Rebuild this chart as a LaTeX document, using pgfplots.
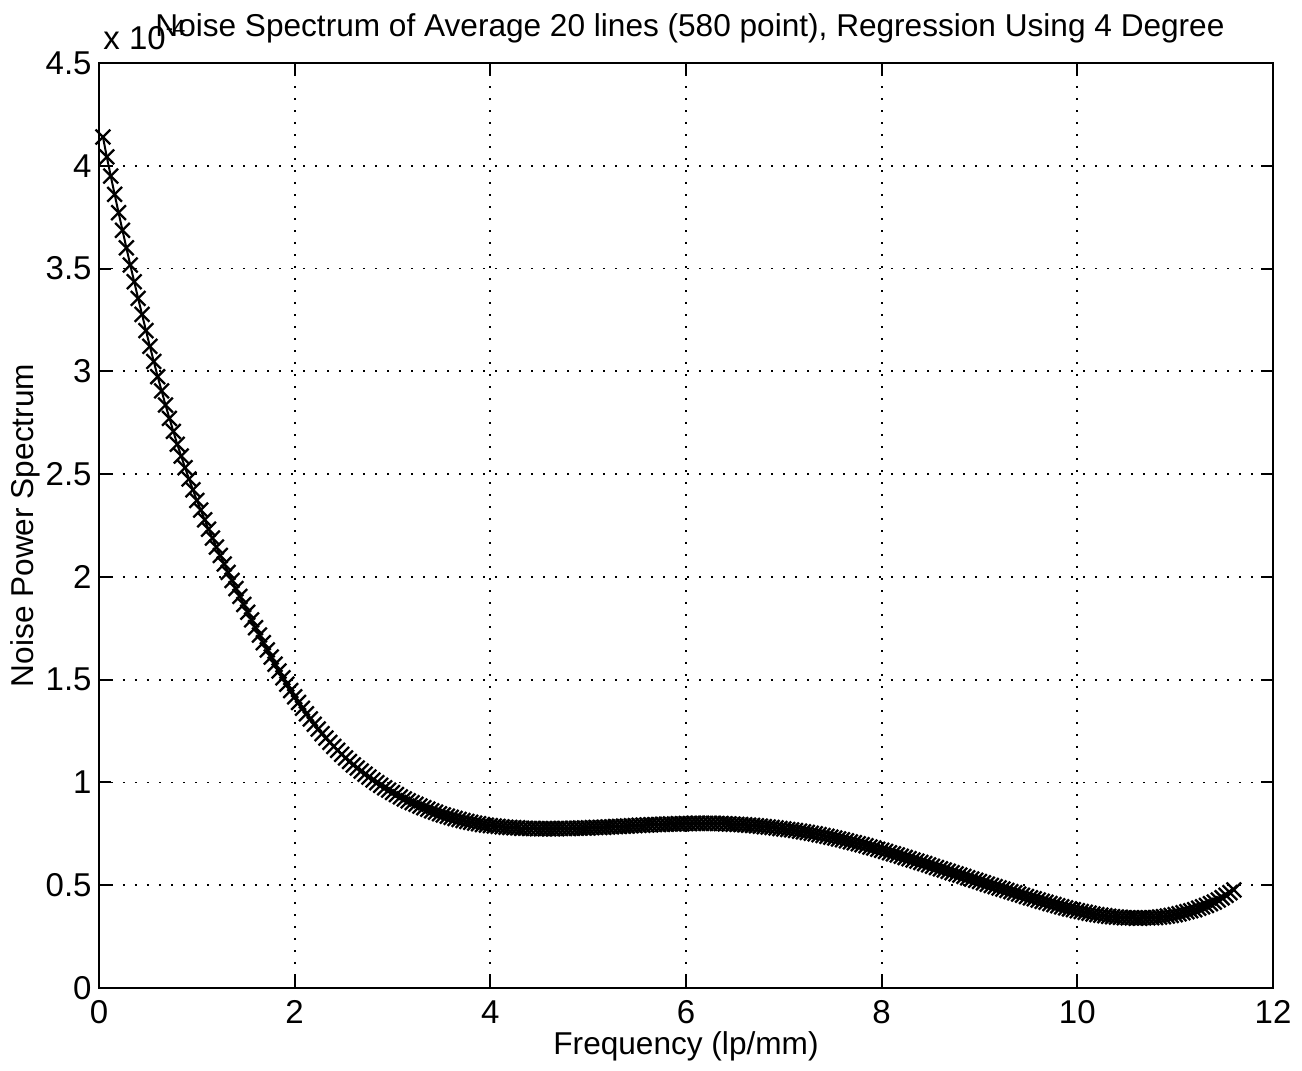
\documentclass[border=0pt]{standalone}
\usepackage{fontspec}
\setmainfont{Liberation Sans}
\usepackage{pgfplots}
\pgfplotsset{compat=1.18}
\newcommand\fs{\fontsize{15.8}{18}\selectfont}
\newcommand\tfs{\fontsize{16.5}{19}\selectfont}
\begin{document}
\begin{tikzpicture}
\begin{axis}[name=ax, scale only axis, width=587pt, height=462.5pt,
  xmin=0, xmax=12, ymin=0, ymax=4.5,
  xtick={0,2,4,6,8,10,12},
  ytick={0,0.5,1,1.5,2,2.5,3,3.5,4,4.5},
  yticklabels={0,0.5,1,1.5,2,2.5,3,3.5,4,4.5},
  grid=major,
  major grid style={black, line width=0.9pt, dash pattern=on 0.9pt off 5.1pt},
  axis line style={black, line width=1pt},
  tick style={black, line width=1pt}, major tick length=6pt,
  tick align=inside, xtick pos=both, ytick pos=both,
  /pgf/number format/assume math mode=true,
  ticklabel style={font=\tfs},
  yticklabel style={anchor=east, inner sep=0pt, xshift=-3.5pt},
  xticklabel style={anchor=north, inner sep=0pt, yshift=-6pt},
  clip=false]
\addplot[black, line width=1pt, mark=x, mark size=5.2pt, mark options={line width=1.15pt, solid}] coordinates {
(0.04,4.140) (0.08,4.043) (0.12,3.950) (0.16,3.861) (0.20,3.772)
(0.24,3.686) (0.28,3.601) (0.32,3.517) (0.36,3.436) (0.40,3.355)
(0.44,3.277) (0.48,3.198) (0.52,3.122) (0.56,3.048) (0.60,2.974)
(0.64,2.905) (0.68,2.836) (0.72,2.771) (0.76,2.708) (0.80,2.645)
(0.84,2.588) (0.88,2.531) (0.92,2.476) (0.96,2.424) (1.00,2.372)
(1.04,2.325) (1.08,2.278) (1.12,2.232) (1.16,2.189) (1.20,2.145)
(1.24,2.104) (1.28,2.063) (1.32,2.022) (1.36,1.983) (1.40,1.943)
(1.44,1.905) (1.48,1.866) (1.52,1.828) (1.56,1.791) (1.60,1.753)
(1.64,1.717) (1.68,1.680) (1.72,1.645) (1.76,1.610) (1.80,1.575)
(1.84,1.542) (1.88,1.509) (1.92,1.478) (1.96,1.447) (2.00,1.417)
(2.04,1.389) (2.08,1.361) (2.12,1.334) (2.16,1.309) (2.20,1.283)
(2.24,1.260) (2.28,1.237) (2.32,1.216) (2.36,1.195) (2.40,1.175)
(2.44,1.156) (2.48,1.137) (2.52,1.119) (2.56,1.102) (2.60,1.085)
(2.64,1.070) (2.68,1.055) (2.72,1.040) (2.76,1.026) (2.80,1.012)
(2.84,0.999) (2.88,0.986) (2.92,0.974) (2.96,0.963) (3.00,0.951)
(3.04,0.941) (3.08,0.930) (3.12,0.920) (3.16,0.911) (3.20,0.902)
(3.24,0.894) (3.28,0.885) (3.32,0.877) (3.36,0.870) (3.40,0.862)
(3.44,0.855) (3.48,0.848) (3.52,0.842) (3.56,0.836) (3.60,0.830)
(3.64,0.825) (3.68,0.820) (3.72,0.815) (3.76,0.810) (3.80,0.806)
(3.84,0.802) (3.88,0.799) (3.92,0.795) (3.96,0.792) (4.00,0.790)
(4.04,0.788) (4.08,0.786) (4.12,0.784) (4.16,0.782) (4.20,0.781)
(4.24,0.780) (4.28,0.779) (4.32,0.777) (4.36,0.777) (4.40,0.776)
(4.44,0.776) (4.48,0.775) (4.52,0.775) (4.56,0.775) (4.60,0.775)
(4.64,0.775) (4.68,0.775) (4.72,0.776) (4.76,0.776) (4.80,0.776)
(4.84,0.777) (4.88,0.777) (4.92,0.778) (4.96,0.778) (5.00,0.779)
(5.04,0.780) (5.08,0.781) (5.12,0.781) (5.16,0.782) (5.20,0.783)
(5.24,0.784) (5.28,0.785) (5.32,0.786) (5.36,0.787) (5.40,0.788)
(5.44,0.789) (5.48,0.790) (5.52,0.791) (5.56,0.792) (5.60,0.793)
(5.64,0.794) (5.68,0.795) (5.72,0.795) (5.76,0.796) (5.80,0.797)
(5.84,0.798) (5.88,0.798) (5.92,0.799) (5.96,0.799) (6.00,0.800)
(6.04,0.800) (6.08,0.801) (6.12,0.801) (6.16,0.801) (6.20,0.801)
(6.24,0.801) (6.28,0.801) (6.32,0.800) (6.36,0.800) (6.40,0.799)
(6.44,0.798) (6.48,0.797) (6.52,0.796) (6.56,0.795) (6.60,0.794)
(6.64,0.792) (6.68,0.791) (6.72,0.789) (6.76,0.787) (6.80,0.785)
(6.84,0.783) (6.88,0.781) (6.92,0.779) (6.96,0.776) (7.00,0.774)
(7.04,0.771) (7.08,0.769) (7.12,0.766) (7.16,0.763) (7.20,0.760)
(7.24,0.757) (7.28,0.753) (7.32,0.750) (7.36,0.746) (7.40,0.742)
(7.44,0.738) (7.48,0.734) (7.52,0.730) (7.56,0.725) (7.60,0.721)
(7.64,0.716) (7.68,0.711) (7.72,0.707) (7.76,0.702) (7.80,0.697)
(7.84,0.692) (7.88,0.686) (7.92,0.681) (7.96,0.675) (8.00,0.670)
(8.04,0.664) (8.08,0.658) (8.12,0.653) (8.16,0.647) (8.20,0.641)
(8.24,0.635) (8.28,0.629) (8.32,0.623) (8.36,0.617) (8.40,0.611)
(8.44,0.605) (8.48,0.599) (8.52,0.592) (8.56,0.586) (8.60,0.580)
(8.64,0.574) (8.68,0.568) (8.72,0.561) (8.76,0.555) (8.80,0.549)
(8.84,0.543) (8.88,0.536) (8.92,0.530) (8.96,0.524) (9.00,0.518)
(9.04,0.512) (9.08,0.505) (9.12,0.499) (9.16,0.493) (9.20,0.487)
(9.24,0.481) (9.28,0.475) (9.32,0.469) (9.36,0.463) (9.40,0.457)
(9.44,0.451) (9.48,0.445) (9.52,0.439) (9.56,0.434) (9.60,0.428)
(9.64,0.422) (9.68,0.417) (9.72,0.411) (9.76,0.406) (9.80,0.400)
(9.84,0.395) (9.88,0.390) (9.92,0.385) (9.96,0.381) (10.00,0.376)
(10.04,0.372) (10.08,0.368) (10.12,0.364) (10.16,0.360) (10.20,0.357)
(10.24,0.354) (10.28,0.352) (10.32,0.349) (10.36,0.347) (10.40,0.345)
(10.44,0.344) (10.48,0.342) (10.52,0.341) (10.56,0.341) (10.60,0.340)
(10.64,0.340) (10.68,0.341) (10.72,0.341) (10.76,0.342) (10.80,0.343)
(10.84,0.345) (10.88,0.347) (10.92,0.350) (10.96,0.353) (11.00,0.357)
(11.04,0.361) (11.08,0.366) (11.12,0.371) (11.16,0.376) (11.20,0.381)
(11.24,0.388) (11.28,0.395) (11.32,0.402) (11.36,0.410) (11.40,0.418)
(11.44,0.428) (11.48,0.439) (11.52,0.451) (11.56,0.464) (11.60,0.477)
};
\end{axis}
\node[anchor=base west, font=\tfs, inner sep=0pt] at ([xshift=2pt,yshift=6.5pt]ax.north west) {x 10\raisebox{7pt}{\fontsize{11}{11}\selectfont -4}};
\node[anchor=base, font=\fs, inner sep=0pt] at ([xshift=2pt,yshift=13pt]ax.north) {Noise Spectrum of Average 20 lines (580 point), Regression Using 4 Degree};
\node[anchor=base, font=\fs, inner sep=0pt] at ([yshift=-33.5pt]ax.south) {Frequency (lp/mm)};
\node[anchor=base, rotate=90, font=\fs, inner sep=0pt] at ([xshift=-32.5pt]ax.west) {Noise Power Spectrum};
\pgfresetboundingbox
\path[use as bounding box] ([xshift=-49.5pt,yshift=-41.5pt]ax.south west) rectangle ([xshift=14.5pt,yshift=31.5pt]ax.north east);
\end{tikzpicture}
\end{document}
